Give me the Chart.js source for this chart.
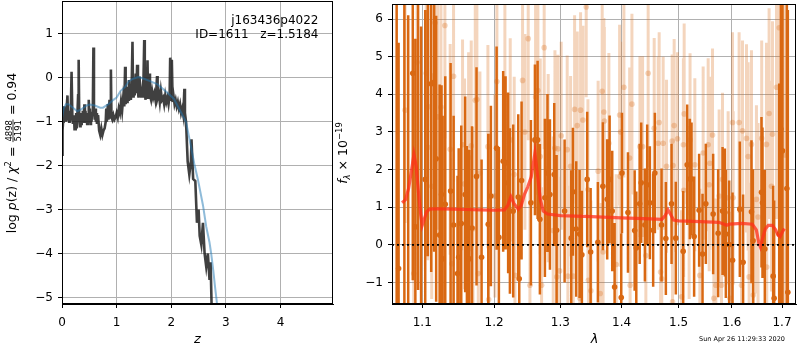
<!DOCTYPE html>
<html>
<head>
<meta charset="utf-8">
<script src="https://cdn.jsdelivr.net/npm/chart.js@4.4.1/dist/chart.umd.min.js"></script>
<style>
html, body { margin: 0; padding: 0; background: #fff; }
#wrap { position: relative; width: 800px; height: 350px; }
#wrap canvas { position: absolute; left: 0; top: 0; }
</style>
</head>
<body>
<div id="wrap">
  <canvas id="pz" width="800" height="350"></canvas>
  <canvas id="spec" width="800" height="350"></canvas>
</div>
<script>
// ---- p(z) panel ----
const zGrid = [0.00,0.01,0.02,0.03,0.04,0.05,0.06,0.07,0.08,0.09,
  0.10,0.11,0.12,0.13,0.14,0.15,0.16,0.175,0.19,0.20,
  0.22,0.23,0.24,0.25,0.26,0.27,0.28,0.295,0.305,0.315,
  0.33,0.34,0.35,0.36,0.37,0.38,0.39,0.40,0.41,0.42,
  0.43,0.44,0.45,0.46,0.47,0.48,0.49,0.50,0.51,0.52,
  0.53,0.54,0.55,0.565,0.575,0.585,0.60,0.61,0.62,0.63,
  0.64,0.66,0.68,0.70,0.72,0.74,0.76,0.78,0.80,0.81,
  0.82,0.84,0.85,0.87,0.88,0.895,0.905,0.92,0.94,0.96,
  0.98,1.00,1.02,1.04,1.06,1.08,1.10,1.12,1.14,1.155,
  1.165,1.18,1.19,1.20,1.21,1.225,1.235,1.25,1.26,1.275,
  1.29,1.30,1.31,1.32,1.33,1.35,1.36,1.375,1.39,1.40,
  1.42,1.43,1.44,1.45,1.47,1.485,1.505,1.515,1.53,1.54,
  1.555,1.565,1.575,1.59,1.60,1.61,1.63,1.65,1.67,1.69,
  1.71,1.725,1.74,1.75,1.77,1.79,1.81,1.83,1.85,1.87,
  1.89,1.91,1.93,1.95,1.97,1.98,1.995,2.01,2.025,2.04,
  2.06,2.08,2.10,2.12,2.14,2.16,2.18,2.20,2.22,2.24,
  2.25,2.27,2.30,2.33,2.36,2.37,2.40,2.44,2.47,2.50,
  2.52,2.55,2.58,2.61,2.64,2.67,2.70,2.72,2.74];
const logPz = [-1.75,-1.2,-1.0,-0.85,-0.65,-0.95,-0.75,-1.0,-0.85,-0.6,
  -0.4,-0.95,-0.85,-1.0,-0.75,-0.95,-0.8,0.14,-0.9,-1.05,
  -0.85,-1.2,-0.95,-1.2,-0.8,-1.15,-0.9,-0.4,0.41,-0.85,
  -1.1,-0.95,-1.05,-0.8,-1.0,-0.75,-1.0,-0.85,-0.6,-0.95,
  -0.75,-1.0,-0.85,-1.05,-0.8,-1.0,-0.5,-0.9,-0.7,-1.05,
  -0.85,-1.0,-0.8,-0.6,0.69,-0.7,-0.95,-0.7,-1.0,-0.8,
  -1.05,-0.85,-1.2,-1.3,-1.15,-1.3,-1.2,-1.15,-1.0,-0.7,
  -1.0,-0.6,-0.95,-0.5,-0.9,0.19,-0.9,-0.95,-0.85,-0.95,
  -0.9,-0.8,-0.9,-0.7,-0.8,-0.55,-0.75,-0.45,-0.65,0.25,
  -0.6,-0.3,-0.55,-0.2,-0.5,-0.05,-0.45,-0.25,-0.5,-0.2,
  0.82,-0.3,-0.45,-0.1,-0.4,0.1,-0.35,0.3,-0.3,-0.45,
  0.03,-0.4,-0.2,-0.45,-0.25,-0.45,0.86,-0.35,-0.5,-0.2,
  -0.4,0.4,-0.45,-0.3,0.1,-0.4,-0.5,-0.3,-0.45,-0.35,
  -0.5,-0.3,0.04,-0.45,-0.35,-0.55,-0.3,-0.5,-0.45,-0.6,
  -0.4,-0.55,-0.45,-0.6,-0.4,0.46,-0.5,0.41,-0.55,-0.4,
  -0.6,-0.5,-0.65,-0.55,-0.7,-0.6,-0.8,-0.7,-0.85,-0.25,
  -0.8,-1.0,-1.9,-2.2,-1.9,-1.4,-2.3,-2.35,-3.3,-3.0,
  -3.6,-3.8,-3.3,-4.0,-4.3,-4.0,-4.6,-4.2,-5.3];
const zSmooth = [0,0.03,0.07,0.12,0.2,0.28,0.35,0.45,0.51,0.6,
  0.7,0.75,0.85,0.94,1.0,1.07,1.16,1.22,1.3,1.4,
  1.5,1.6,1.75,1.93,2.05,2.15,2.27,2.35,2.42,2.49,
  2.58,2.64,2.7,2.73,2.77,2.8,2.83,2.86];
const logPzSmooth = [-0.92,-0.7,-0.6,-0.6,-0.68,-0.76,-0.72,-0.63,-0.61,-0.63,
  -0.68,-0.68,-0.6,-0.5,-0.45,-0.3,-0.2,-0.08,-0.02,0.02,
  -0.02,-0.07,-0.15,-0.34,-0.48,-0.72,-1.0,-1.5,-1.95,-2.33,
  -2.9,-3.39,-3.75,-4.0,-4.4,-4.75,-5.07,-5.45];
const zTicks = [0, 1, 2, 3, 4];
const pzTicks = [-5, -4, -3, -2, -1, 0, 1];

// ---- spectrum panel ----
const lamTicks = [1.1, 1.2, 1.3, 1.4, 1.5, 1.6, 1.7];
const fluxTicks = [-1, 0, 1, 2, 3, 4, 5, 6];

const lamDark = [1.0665,1.0690,1.0765,1.0815,1.0875,1.0909,1.0945,1.0985,1.1040,1.1075,
  1.1120,1.1160,1.1187,1.1234,1.1260,1.1275,1.1311,1.1384,1.1426,1.1480,
  1.1496,1.1532,1.1587,1.1611,1.1644,1.1683,1.1747,1.1819,1.1915,1.1953,
  1.2036,1.2069,1.2132,1.2167,1.2205,1.2231,1.2280,1.2355,1.2370,1.2405,
  1.2546,1.2607,1.2648,1.2683,1.2760,1.2800,1.2838,1.2905,1.2942,1.3068,
  1.3173,1.3200,1.3253,1.3307,1.3344,1.3430,1.3486,1.3605,1.3687,1.3759,
  1.3799,1.3843,1.3883,1.3995,1.4007,1.4109,1.4224,1.4252,1.4311,1.4337,
  1.4401,1.4441,1.4488,1.4546,1.4576,1.4694,1.4771,1.4873,1.4950,1.5084,
  1.5157,1.5206,1.5237,1.5285,1.5378,1.5441,1.5503,1.5641,1.5736,1.5820,
  1.5864,1.5883,1.5947,1.6012,1.6154,1.6218,1.6383,1.6415,1.6583,1.6603,
  1.6650,1.6819,1.6839,1.6942,1.6977,1.7010,1.7100,1.7120];
const fluxDark = [-2.0,-0.63,7.0,-1.9,4.56,0.48,6.8,-2.2,1.74,7.2,
  4.28,4.32,2.29,0.26,1.34,-0.37,1.08,1.43,0.53,-0.76,
  -0.33,0.57,1.34,0.13,-0.37,0.45,1.82,-0.33,0.55,1.3,
  2.57,0.2,2.22,2.18,1.65,0.9,0.9,1.27,-0.9,1.71,
  1.12,2.79,2.79,0.68,1.25,1.91,1.34,1.87,0.39,0.9,
  0.18,1.41,0.42,0.29,-0.26,1.74,-0.19,0.07,1.56,1.21,
  1.74,0.9,-1.12,-1.4,1.91,0.86,0.38,-0.08,1.09,1.65,
  0.53,1.6,1.12,0.39,1.91,0.53,0.17,1.09,0.18,-0.17,
  2.13,1.75,1.75,0.22,0.92,-0.24,1.09,0.82,0.31,0.9,
  0.86,0.29,0.01,-0.41,0.95,-0.46,0.88,0.11,1.4,1.12,
  -0.11,-0.83,-1.42,0.29,3.08,2.5,1.5,-1.26];
const errDark = [9,6,9,8,5.5,5,8,8,4.5,7.5,
  5,4.5,3.8,4,2.9,3.8,3.4,3.4,2.9,2.6,
  2.9,2.6,2.6,2.5,2.9,2.7,2.9,2.6,2.4,2.4,
  2.7,2.4,2.4,2.3,2.4,2.2,2.3,2.2,2.2,2.1,
  2.2,2.0,2.1,2.0,2.1,2.1,2.0,1.9,2.0,1.9,
  1.8,1.7,1.8,1.7,1.7,1.8,1.7,1.6,1.7,1.6,
  1.7,1.6,1.7,1.7,1.6,1.6,1.6,1.5,1.6,1.6,
  1.5,1.6,1.5,1.5,1.6,1.5,1.5,1.6,1.5,1.6,
  1.6,1.6,1.5,1.6,1.5,1.6,1.6,1.6,1.7,1.7,
  1.7,1.7,1.7,1.8,1.8,1.8,1.9,1.9,2.0,2.0,
  2.1,2.4,2.6,4,5,7,8,7.5];

const lamLight = [1.0774,1.0888,1.0932,1.1053,1.1075,1.1084,1.1127,1.1171,1.1207,1.1252,
  1.1306,1.1378,1.1401,1.1425,1.1550,1.1578,1.1635,1.1672,1.1697,1.1729,
  1.1752,1.1772,1.1795,1.1910,1.1921,1.2011,1.2040,1.2157,1.2236,1.2295,
  1.2306,1.2420,1.2455,1.2505,1.2531,1.2617,1.2652,1.2688,1.2709,1.2749,
  1.2811,1.2889,1.2916,1.2946,1.2962,1.2989,1.3014,1.3109,1.3120,1.3163,
  1.3205,1.3227,1.3269,1.3310,1.3323,1.3361,1.3414,1.3442,1.3450,1.3490,
  1.3609,1.3643,1.3676,1.3691,1.3704,1.3712,1.3787,1.3910,1.3967,1.3976,
  1.3984,1.4040,1.4138,1.4146,1.4177,1.4315,1.4361,1.4418,1.4458,1.4564,
  1.4635,1.4652,1.4677,1.4698,1.4723,1.4783,1.4884,1.4891,1.4901,1.4920,
  1.4981,1.5054,1.5088,1.5093,1.5102,1.5193,1.5210,1.5298,1.5391,1.5453,
  1.5547,1.5566,1.5578,1.5629,1.5654,1.5692,1.5755,1.5800,1.5819,1.5927,
  1.5960,1.6012,1.6024,1.6140,1.6187,1.6206,1.6285,1.6317,1.6337,1.6383,
  1.6419,1.6482,1.6514,1.6587,1.6683,1.6689,1.6736,1.6784,1.6805,1.6887,
  1.6942,1.7058];
const fluxLight = [3.58,-0.76,4.85,4.56,2.59,3.67,1.56,5.9,3.4,3.66,
  5.83,2.54,-0.5,4.48,2.66,1.62,2.32,2.63,0.43,3.84,
  3.86,-0.76,1.91,2.61,-1.45,1.3,4.34,3.95,2.79,1.87,
  -0.81,4.37,3.0,5.48,-1.07,3.93,4.1,2.35,-1.07,5.24,
  2.04,0.38,2.57,-0.85,2.55,-0.69,2.9,2.53,-0.83,2.09,
  -0.83,3.6,3.17,-1.42,3.58,3.32,6.32,1.47,-0.94,-1.22,
  1.96,-1.29,4.08,-0.19,3.53,3.29,2.7,-0.52,3.45,1.82,
  3.0,4.19,2.31,-1.07,3.74,2.61,2.61,-0.28,4.56,3.1,
  2.7,3.25,-0.72,-0.9,2.7,2.09,2.76,-1.51,2.11,3.17,
  2.82,-1.38,2.66,1.45,3.48,0.86,2.79,2.13,-0.81,2.44,
  2.66,1.6,2.17,2.92,-1.42,-1.07,1.3,-1.07,1.74,1.25,
  -1.42,3.25,1.25,3.25,-1.07,3.03,2.83,2.35,-0.85,2.67,
  -1.33,1.21,0.74,2.83,2.67,-0.59,3.49,1.56,2.94,4.19,
  5.77,2.39];
const errLight = [3,3,3,3,3,3,3,3,3,3,
  3,2.8,2.8,2.8,2.8,2.8,2.8,2.8,2.7,2.8,
  2.8,2.7,2.7,2.7,2.7,2.7,2.7,2.7,2.7,2.6,
  2.6,2.7,2.6,2.7,2.6,2.6,2.6,2.6,2.6,2.7,
  2.5,2.5,2.6,2.5,2.5,2.5,2.5,2.5,2.4,2.4,
  2.4,2.5,2.5,2.4,2.6,2.5,2.4,2.4,2.4,2.4,
  2.4,2.4,2.5,2.4,2.5,2.5,2.4,2.4,2.4,2.4,
  2.4,2.4,2.4,2.4,2.4,2.4,2.4,2.3,2.5,2.4,
  2.3,2.4,2.3,2.3,2.3,2.3,2.3,2.3,2.3,2.3,
  2.3,2.3,2.3,2.3,2.4,2.3,2.3,2.3,2.3,2.3,
  2.3,2.3,2.3,2.3,2.3,2.3,2.3,2.3,2.3,2.3,
  2.3,2.4,2.3,2.4,2.4,2.4,2.5,2.5,2.5,2.5,
  2.5,2.5,2.5,2.6,2.7,2.7,2.8,2.8,3,3.5,
  4,5];

const lamModel = [1.0735,1.078,1.082,1.086,1.089,1.092,1.095,1.098,1.100,1.103,
  1.106,1.110,1.120,1.140,1.160,1.180,1.200,1.215,1.220,1.2246,
  1.229,1.2355,1.240,1.245,1.250,1.255,1.2607,1.265,1.269,1.2734,
  1.280,1.300,1.350,1.400,1.450,1.470,1.476,1.481,1.486,1.491,
  1.500,1.540,1.575,1.585,1.590,1.595,1.620,1.640,1.648,1.653,
  1.656,1.660,1.666,1.672,1.680,1.687,1.692,1.696,1.701,1.705];
const fluxModel = [1.12,1.2,1.5,2.0,2.4,2.1,1.4,0.8,0.52,0.7,
  0.88,0.95,0.96,0.95,0.94,0.93,0.92,0.93,1.05,1.28,
  1.1,0.95,1.05,1.35,1.55,1.8,2.44,1.8,1.2,0.9,
  0.82,0.78,0.75,0.72,0.69,0.68,0.78,0.93,0.8,0.66,
  0.64,0.62,0.6,0.55,0.52,0.55,0.57,0.55,0.4,0.05,
  -0.05,0.15,0.42,0.52,0.52,0.4,0.26,0.22,0.35,0.43];

const FONT = 'DejaVu Sans';
const ORANGE = 'rgb(217,104,18)';
const ORANGE_LIGHT = 'rgba(217,104,18,0.28)';

function pts(xs, ys) { return xs.map((x, i) => ({ x: x, y: ys[i] })); }

// vertical error bars as one broken line: low, high, gap
function errBars(xs, ys, es) {
    const out = [];
    xs.forEach((x, i) => {
        out.push({ x: x, y: ys[i] - es[i] }, { x: x, y: ys[i] + es[i] }, { x: x, y: null });
    });
    return out;
}

function minusFmt(v) { return v < 0 ? '\u2212' + Math.abs(v) : String(v); }

function axisBase(tickVals, fmt, pad) {
    return {
        afterBuildTicks: (s) => { s.ticks = tickVals.map(v => ({ value: v })); },
        ticks: { callback: fmt, color: '#000', font: { family: FONT, size: 12 }, padding: pad, autoSkip: false, maxRotation: 0 },
        grid: { color: '#b0b0b0', lineWidth: 1, tickColor: '#000', tickLength: 4 },
        border: { display: true, color: '#000' }
    };
}

// fixed axis box, no extra label overhang padding
function fitY(w) {
    return (s) => { s.width = w; s.paddingTop = 0; s.paddingBottom = 0; };
}
function fitX(h) {
    return (s) => { s.height = h; s.paddingLeft = 0; s.paddingRight = 0; };
}

// draw mixed-style text runs centred on (0,0) of current transform
function drawRuns(ctx, runs) {
    let total = 0;
    runs.forEach(r => {
        ctx.font = r.font;
        r.w = r.frac ? Math.max(ctx.measureText(r.frac[0]).width, ctx.measureText(r.frac[1]).width) + 2 : ctx.measureText(r.t).width;
        total += r.w;
    });
    let x = -total / 2;
    ctx.fillStyle = '#000';
    ctx.textBaseline = 'alphabetic';
    ctx.textAlign = 'left';
    runs.forEach(r => {
        ctx.font = r.font;
        if (r.frac) {
            ctx.textAlign = 'center';
            ctx.fillText(r.frac[0], x + r.w / 2, -0.5);
            ctx.fillText(r.frac[1], x + r.w / 2, 9);
            ctx.fillRect(x + 0.5, 0.6, r.w - 1, 0.8);
            ctx.textAlign = 'left';
        } else {
            ctx.fillText(r.t, x, 4 + (r.dy || 0));
        }
        x += r.w;
    });
}

function frame(chart) {
    const a = chart.chartArea, c = chart.ctx;
    c.save();
    c.strokeStyle = '#000';
    c.lineWidth = 1;
    c.strokeRect(Math.round(a.left) + 0.5, Math.round(a.top) + 0.5, Math.round(a.right - a.left) - 1, Math.round(a.bottom - a.top) - 1);
    c.restore();
}

const pzDecor = {
    id: 'pzDecor',
    afterDraw(chart) {
        frame(chart);
        const c = chart.ctx;
        c.save();
        c.fillStyle = '#000';
        c.font = '12px ' + FONT;
        c.textAlign = 'right';
        c.textBaseline = 'middle';
        c.fillText('j163436p4022', 318.5, 20.5);
        c.fillText('ID=1611   z=1.5184', 318.5, 34.5);
        c.textAlign = 'center';
        c.font = 'italic 13px ' + FONT;
        c.fillText('z', 197.5, 340);
        c.translate(12, 153);
        c.rotate(-Math.PI / 2);
        const n = '12.5px ' + FONT, it = 'italic 12.5px ' + FONT, sm = '8.5px ' + FONT;
        drawRuns(c, [
            { t: 'log ', font: n }, { t: 'p', font: it }, { t: '(z) / ', font: n },
            { t: '\u03c7', font: it }, { t: '2', font: sm, dy: -5 }, { t: ' = ', font: n },
            { frac: ['4898', '5191'], font: sm }, { t: ' = 0.94', font: n }
        ]);
        c.restore();
    }
};

const specDecor = {
    id: 'specDecor',
    afterDraw(chart) {
        frame(chart);
        const c = chart.ctx;
        c.save();
        c.fillStyle = '#000';
        c.textAlign = 'center';
        c.textBaseline = 'middle';
        c.font = 'italic 13px ' + FONT;
        c.fillText('\u03bb', 594.5, 340);
        c.font = '6.5px ' + FONT;
        c.fillText('Sun Apr 26 11:29:33 2020', 742, 339.5);
        c.translate(343, 153);
        c.rotate(-Math.PI / 2);
        drawRuns(c, [
            { t: 'f', font: 'italic 12.5px ' + FONT }, { t: '\u03bb', font: 'italic 8.5px ' + FONT, dy: 2.5 },
            { t: ' \u00d7 10', font: '12.5px ' + FONT }, { t: '\u221219', font: '8.5px ' + FONT, dy: -5 }
        ]);
        c.restore();
    }
};

const common = {
    responsive: false,
    animation: false,
    devicePixelRatio: 1,
    plugins: { legend: { display: false }, tooltip: { enabled: false } },
    elements: { line: { tension: 0 } }
};

new Chart(document.getElementById('pz'), {
    type: 'line',
    data: {
        datasets: [
            { data: pts(zSmooth, logPzSmooth), borderColor: 'rgba(31,119,180,0.5)', borderWidth: 2, pointRadius: 0, clip: 0, order: 0 },
            { data: pts(zGrid, logPz), borderColor: 'rgba(30,30,30,0.85)', borderWidth: 2.6, pointRadius: 0, clip: 0, order: 1 }
        ]
    },
    options: Object.assign({}, common, {
        layout: { padding: { left: 0, right: 467, top: 1, bottom: 0 } },
        scales: {
            x: Object.assign(axisBase(zTicks, v => String(v), 8), {
                type: 'linear', min: 0, max: 4.96, afterFit: fitX(46)
            }),
            y: Object.assign(axisBase(pzTicks, minusFmt, 5), {
                type: 'linear', min: -5.15, max: 1.75, afterFit: fitY(62)
            })
        }
    }),
    plugins: [pzDecor]
});

new Chart(document.getElementById('spec'), {
    type: 'line',
    data: {
        datasets: [
            { data: [{ x: 1.0605, y: 0 }, { x: 1.729, y: 0 }], borderColor: '#000', borderWidth: 1.8, borderDash: [2, 3], pointRadius: 0, clip: 0, order: 0 },
            { data: pts(lamModel, fluxModel), borderColor: 'rgba(255,45,25,0.75)', borderWidth: 3.2, pointRadius: 0, clip: 0, order: 1 },
            { data: pts(lamDark, fluxDark), showLine: false, pointRadius: 2.8, pointBorderWidth: 0, pointBackgroundColor: ORANGE, clip: 0, order: 2 },
            { data: errBars(lamDark, fluxDark, errDark), borderColor: ORANGE, borderWidth: 2.5, pointRadius: 0, spanGaps: false, clip: 0, order: 3 },
            { data: pts(lamLight, fluxLight), showLine: false, pointRadius: 2.8, pointBorderWidth: 0, pointBackgroundColor: ORANGE_LIGHT, clip: 0, order: 4 },
            { data: errBars(lamLight, fluxLight, errLight), borderColor: ORANGE_LIGHT, borderWidth: 3, pointRadius: 0, spanGaps: false, clip: 0, order: 5 }
        ]
    },
    options: Object.assign({}, common, {
        layout: { padding: { left: 340, right: 1, top: 1, bottom: 0 } },
        scales: {
            x: Object.assign(axisBase(lamTicks, v => Number(v).toFixed(1), 8), {
                type: 'logarithmic', min: 1.0605, max: 1.729, afterFit: fitX(46)
            }),
            y: Object.assign(axisBase(fluxTicks, minusFmt, 5), {
                type: 'linear', min: -1.57, max: 6.4, afterFit: fitY(52)
            })
        }
    }),
    plugins: [specDecor]
});
</script>
</body>
</html>
